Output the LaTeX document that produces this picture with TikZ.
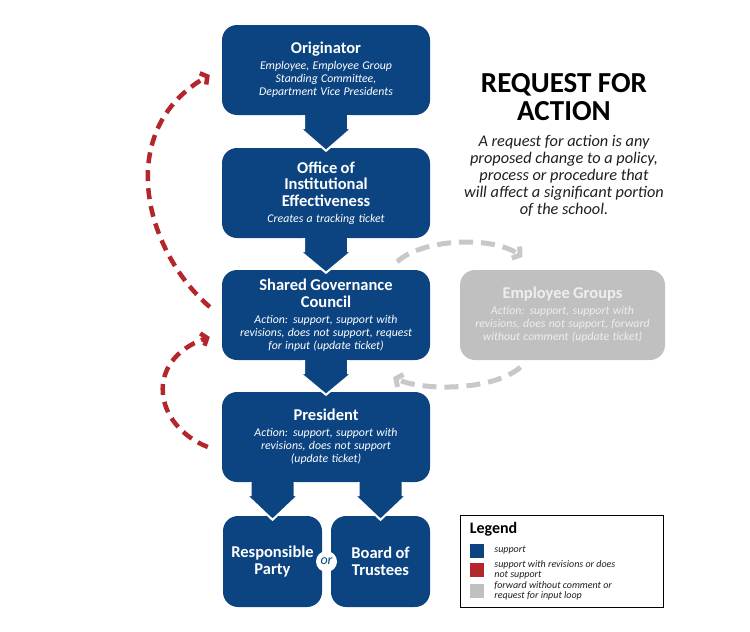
\documentclass[tikz,border=0pt]{standalone}
\usepackage{fontspec}
\setmainfont{Carlito}
\usepackage{tikz}
\usetikzlibrary{calc,arrows.meta,positioning}
\definecolor{rfablue}{RGB}{12, 68, 130}
\definecolor{rfared}{RGB}{178, 38, 44}
\definecolor{rfagrey}{RGB}{192, 192, 192}
\definecolor{rfadash}{RGB}{200, 200, 200}
\definecolor{rfapale}{RGB}{238, 238, 238}
\definecolor{rfaink}{RGB}{30, 30, 30}

\newcommand{\boxhead}[1]{{\fontsize{16.5}{16.5}\selectfont\bfseries #1\par}}
\newcommand{\boxnote}[1]{{\fontsize{11.8}{13}\selectfont\itshape\vskip3pt #1\par}}
% block arrow from #1 (bottom of the upper box) to the tip #2
\newcommand{\flowarrow}[2]{%
  \fill[rfablue] ($(#1)+(-22,-2)$) -- ($(#1)+(-22,13)$) -- ($(#1)+(-26,13)$) -- (#2)
    -- ($(#1)+(26,13)$) -- ($(#1)+(22,13)$) -- ($(#1)+(22,-2)$) -- cycle;
  \draw[white, line width=2pt, line join=miter] ($(#1)+(-22,0)$) -- ($(#1)+(-22,13)$) -- ($(#1)+(-26,13)$) -- (#2)
    -- ($(#1)+(26,13)$) -- ($(#1)+(22,13)$) -- ($(#1)+(22,0)$);}

\begin{document}
\begin{tikzpicture}[x=1pt, y=-1pt,
  stage/.style={fill=rfablue, text=white, rounded corners=15pt, minimum width=208pt,
    minimum height=90pt, text width=204pt, align=center, inner sep=0pt},
  endbox/.style={stage, minimum width=99pt, minimum height=91pt, text width=97pt},
  sidebox/.style={stage, fill=rfagrey, text=rfapale, minimum width=205pt},
  redloop/.style={rfared, line width=4.5pt, dash pattern=on 11pt off 7pt,
    -{Straight Barb[length=5pt,width=13pt]}},
  greyloop/.style={rfadash, line width=5pt, dash pattern=on 14pt off 8pt,
    -{Straight Barb[length=5pt,width=14pt]}},
  swatch/.style={minimum size=14pt, inner sep=0pt},
  keytext/.style={font=\fontsize{10}{9.5}\selectfont\itshape, align=left, inner sep=0pt, text=rfaink}]
\useasboundingbox (0,0) rectangle (750,632);

% Main stages
\node[stage] (orig) at (326,70) {\boxhead{Originator}\boxnote{Employee, Employee Group\\Standing Committee,\\Department Vice Presidents}};
\node[stage] (oie) at (326,193) {\boxhead{Office of\\Institutional\\Effectiveness}\boxnote{Creates a tracking ticket}};
\node[stage] (sgc) at (326,315) {\boxhead{Shared Governance\\Council}\boxnote{Action: support, support with\\revisions, does not support, request\\for input (update ticket)}};
\node[stage] (pres) at (326,437) {\boxhead{President}\boxnote{Action: support, support with\\revisions, does not support\\(update ticket)}};
\node[endbox] (resp) at (272.5,561.5) {\boxhead{Responsible\\Party}};
\node[endbox] (board) at (380.5,561.5) {\boxhead{Board of\\Trustees}};
\node[sidebox] (empgrp) at (562.5,315) {\boxhead{Employee Groups}\boxnote{Action: support, support with\\revisions, does not support, forward\\without comment (update ticket)}};

% Block arrows
\coordinate (presL) at (pres.south -| resp.north);
\coordinate (presR) at (pres.south -| board.north);
\flowarrow{orig.south}{$(oie.north)+(0,3)$}
\flowarrow{oie.south}{$(sgc.north)+(0,3)$}
\flowarrow{sgc.south}{$(pres.north)+(0,3)$}
\flowarrow{presL}{$(resp.north)+(0,4)$}
\flowarrow{presR}{$(board.north)+(0,4)$}
\node[circle, fill=white, minimum size=21pt, inner sep=0pt, text=rfablue,
  font=\fontsize{14}{14}\selectfont\itshape] (or) at ($(resp.east)!0.5!(board.west)$) {or};

% Loops
\draw[redloop] ($(sgc.west)+(-12,-8)$) .. controls +(-66,-57) and +(-96,55) .. ($(orig.west)+(-12,5)$);
\draw[redloop] ($(pres.west)+(-14,10)$) .. controls +(-55,-22) and +(-66,23) .. ($(sgc.west)+(-12,22)$);
\draw[greyloop] ($(sgc.north east)+(-33,-8)$) .. controls +(23,-22) and +(-33,-22) .. ($(empgrp.north)+(-40,-13)$);
\draw[greyloop] ($(empgrp.south)+(-42,7)$) .. controls +(-30,25) and +(27,13) .. ($(sgc.south east)+(-37,17)$);

% Title
\node[anchor=north, align=center, inner sep=0pt, font=\fontsize{29}{28}\selectfont\bfseries] (rfa) at (564,73) {REQUEST FOR\\ACTION};
\node[below=14pt of rfa, align=center, inner sep=0pt, text=rfaink, font=\fontsize{16.3}{17}\selectfont\itshape] (desc)
  {A request for action is any\\proposed change to a policy,\\process or procedure that\\will affect a significant portion\\of the school.};

% Legend
\node[draw=black, line width=0.8pt, minimum width=203pt, minimum height=92pt, inner sep=0pt] (legend) at (561.5,561) {};
\node[anchor=base west, inner sep=0pt, font=\fontsize{16}{16}\selectfont\bfseries] (legtitle) at ($(legend.north west)+(10,19)$) {Legend};
\node[swatch, fill=rfablue] (keyblue) at (477,550.5) {};
\node[swatch, fill=rfared] (keyred) at (477,570) {};
\node[swatch, fill=rfagrey] (keygrey) at (477,591) {};
\node[keytext, right=10pt of keyblue] (txtblue) {support};
\node[keytext, right=10pt of keyred] (txtred) {support with revisions or does\\not support};
\node[keytext, right=10pt of keygrey] (txtgrey) {forward without comment or\\request for input loop};
\end{tikzpicture}
\end{document}
